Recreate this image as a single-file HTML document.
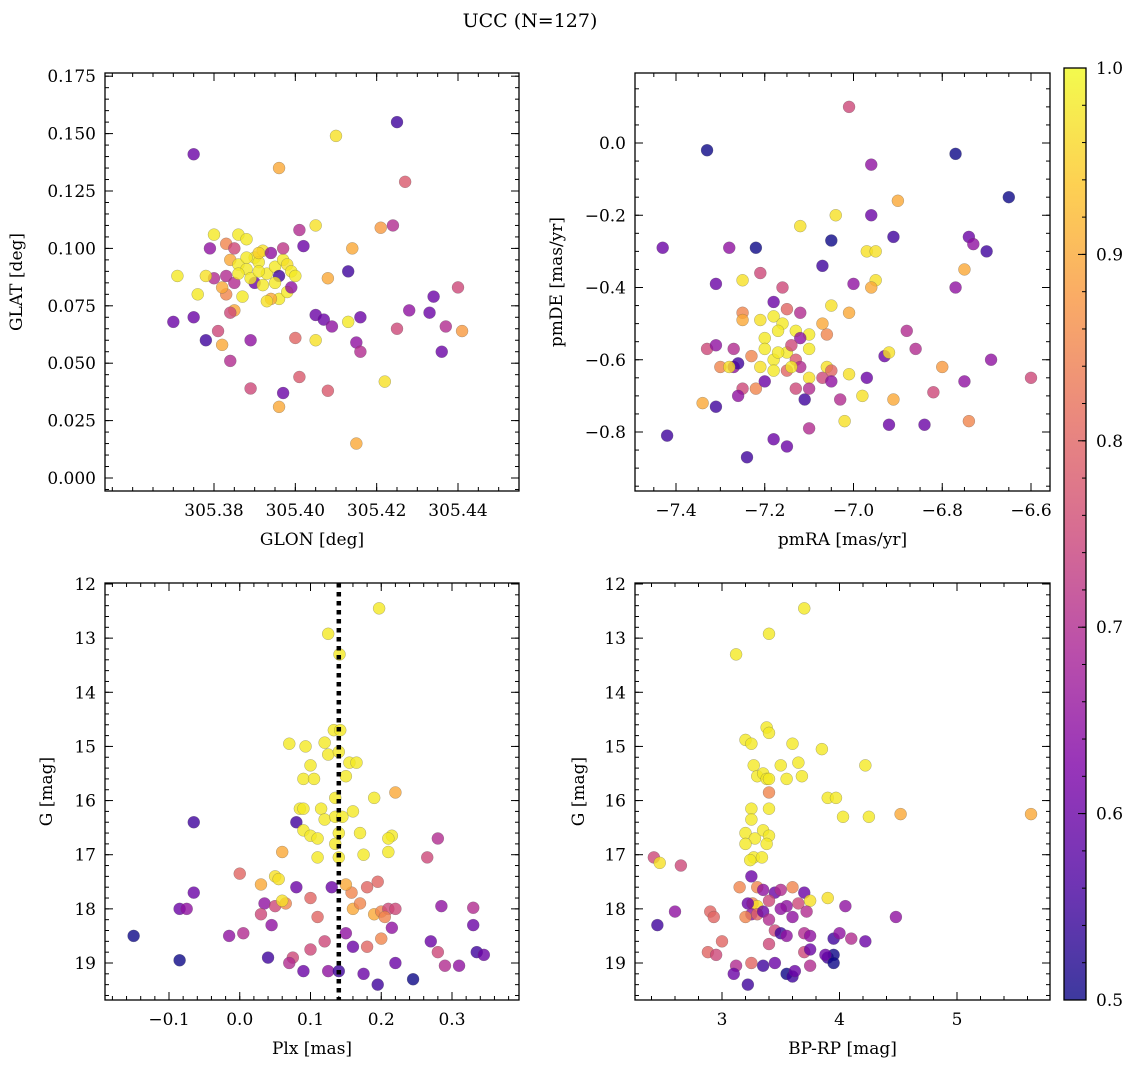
<!DOCTYPE html>
<html><head><meta charset="utf-8"><style>
body{margin:0;background:#fff}
svg{display:block;font-family:"DejaVu Serif","Liberation Serif",serif}
</style></head><body>
<svg id="fig" width="1136" height="1068" viewBox="0 0 1136 1068" xmlns="http://www.w3.org/2000/svg">
<defs><linearGradient id="plasma" x1="0" y1="1" x2="0" y2="0">
<stop offset="0" stop-color="#0d0887"/><stop offset="0.125" stop-color="#4c02a1"/><stop offset="0.25" stop-color="#7e03a8"/><stop offset="0.375" stop-color="#a92395"/><stop offset="0.5" stop-color="#cc4778"/><stop offset="0.625" stop-color="#e56b5d"/><stop offset="0.75" stop-color="#f89540"/><stop offset="0.875" stop-color="#fdc527"/><stop offset="1" stop-color="#f0f921"/>
</linearGradient></defs>
<text x="530" y="27" text-anchor="middle" font-size="19">UCC (N=127)</text>
</svg>
<script>
const p1x=[305.375,305.410,305.425,305.396,305.427,305.371,305.370,305.375,305.376,305.378,305.381,305.382,305.384,305.389,305.389,305.397,305.396,305.401,305.408,305.415,305.422,305.400,305.405,305.405,305.407,305.409,305.413,305.415,305.416,305.416,305.413,305.408,305.405,305.402,305.401,305.414,305.421,305.424,305.425,305.428,305.433,305.434,305.436,305.437,305.440,305.441,
305.380,305.383,305.385,305.386,305.388,305.384,305.386,305.388,305.390,305.392,305.391,305.393,305.394,305.395,305.396,305.397,305.398,305.399,305.400,305.397,305.396,305.394,305.393,305.390,305.387,305.385,305.384,305.383,305.382,305.380,305.378,305.379,305.383,305.385,305.389,305.391,305.392,305.395,305.398,305.399,305.391,305.388,305.386];
const p1y=[0.141,0.149,0.155,0.135,0.129,0.088,0.068,0.070,0.080,0.060,0.064,0.058,0.051,0.039,0.060,0.037,0.031,0.044,0.038,0.015,0.042,0.061,0.060,0.071,0.069,0.066,0.068,0.059,0.055,0.070,0.090,0.087,0.110,0.101,0.108,0.100,0.109,0.110,0.065,0.073,0.072,0.079,0.055,0.066,0.083,0.064,
0.106,0.102,0.100,0.106,0.104,0.095,0.093,0.091,0.096,0.099,0.094,0.089,0.098,0.092,0.088,0.095,0.093,0.090,0.088,0.100,0.078,0.078,0.077,0.085,0.079,0.073,0.072,0.080,0.083,0.087,0.088,0.100,0.088,0.085,0.087,0.090,0.084,0.085,0.081,0.083,0.098,0.096,0.089];
const p1c=[.6,.97,.55,.9,.78,.98,.6,.6,.98,.55,.75,.9,.7,.75,.65,.6,.9,.78,.78,.9,.97,.8,.97,.6,.6,.65,.98,.65,.7,.6,.55,.9,.97,.6,.7,.9,.88,.7,.75,.65,.6,.6,.6,.7,.75,.88,
.98,.85,.75,.98,.98,.9,.98,.98,.98,.97,.98,.98,.65,.98,.55,.98,.97,.98,.98,.72,.98,.9,.97,.6,.98,.9,.75,.85,.9,.7,.97,.65,.7,.7,.98,.98,.98,.98,.98,.65,.95,.98,.98];

const p2x=[-7.33,-6.77,-7.01,-6.65,-6.96,-7.43,-7.28,-7.22,-7.05,-6.96,-6.91,-6.74,-6.73,-6.70,-7.12,-7.04,-6.90,-6.97,-6.95,-6.95,-6.96,-7.00,-7.07,-7.31,-7.21,-7.25,-6.75,-6.77,-7.16,-7.18,-7.15,-7.12,-7.25,-7.25,-7.21,-7.18,-7.16,-7.13,-7.10,-7.06,-7.07,-7.05,-7.01,-7.10,-7.20,-7.17,-7.20,-7.15,-7.18,-7.21,-7.18,-7.15,-7.13,-7.12,-7.10,-7.13,-7.11,-7.10,-7.07,-7.06,-7.05,-7.05,-7.03,-7.01,-6.97,-6.98,-6.93,-6.92,-6.88,-6.86,-6.80,-6.82,-6.75,-6.69,-6.74,-6.60,-6.91,-6.92,-6.84,-7.02,-7.10,-7.18,-7.15,-7.24,-7.42,-7.31,-7.34,-7.33,-7.31,-7.30,-7.27,-7.26,-7.25,-7.26,-7.22,-7.23,-7.28,-7.27,-7.12,-7.14,-7.20,-7.17,-7.14];
const p2y=[-0.02,-0.03,0.10,-0.15,-0.06,-0.29,-0.29,-0.29,-0.27,-0.20,-0.26,-0.26,-0.28,-0.30,-0.23,-0.20,-0.16,-0.30,-0.30,-0.38,-0.40,-0.39,-0.34,-0.39,-0.36,-0.38,-0.35,-0.40,-0.40,-0.44,-0.46,-0.47,-0.47,-0.49,-0.49,-0.48,-0.50,-0.52,-0.53,-0.53,-0.50,-0.45,-0.47,-0.57,-0.54,-0.52,-0.57,-0.58,-0.60,-0.62,-0.63,-0.63,-0.60,-0.62,-0.65,-0.68,-0.71,-0.68,-0.65,-0.62,-0.63,-0.66,-0.71,-0.64,-0.65,-0.70,-0.59,-0.58,-0.52,-0.57,-0.62,-0.69,-0.66,-0.60,-0.77,-0.65,-0.71,-0.78,-0.78,-0.77,-0.79,-0.82,-0.84,-0.87,-0.81,-0.73,-0.72,-0.57,-0.56,-0.62,-0.62,-0.61,-0.68,-0.70,-0.68,-0.59,-0.62,-0.57,-0.54,-0.56,-0.66,-0.58,-0.62];
const p2c=[.5,.5,.75,.5,.65,.6,.65,.5,.5,.6,.55,.6,.65,.55,.97,.97,.9,.97,.97,.97,.9,.65,.55,.6,.75,.97,.9,.65,.75,.6,.8,.7,.85,.9,.97,.98,.98,.98,.98,.85,.9,.97,.9,.98,.98,.98,.98,.98,.98,.97,.98,.8,.78,.7,.97,.75,.55,.7,.75,.97,.8,.65,.7,.97,.6,.97,.6,.97,.7,.7,.88,.75,.65,.65,.85,.75,.9,.6,.6,.97,.7,.6,.6,.55,.55,.55,.9,.75,.65,.85,.65,.55,.75,.65,.85,.85,.97,.7,.65,.75,.6,.98,.98];

const p3x=[0.197,0.125,0.141,0.133,0.142,0.07,0.093,0.12,0.125,0.14,0.155,0.165,0.1,0.09,0.105,0.15,0.22,0.19,0.135,0.085,0.09,0.115,0.12,0.135,0.145,0.16,0.08,-0.065,0.09,0.1,0.11,0.14,0.17,0.215,0.21,0.135,0.14,0.11,0.06,0.175,0.21,0.28,0.265,0.0,0.05,0.055,0.03,0.08,0.1,0.13,0.158,0.18,0.15,0.195,-0.065,-0.085,-0.075,0.035,0.05,0.065,0.06,0.03,0.045,0.11,0.16,0.17,0.19,0.2,0.21,0.22,0.205,0.215,0.285,0.33,0.33,-0.15,-0.015,0.005,0.04,0.075,0.07,0.1,0.12,0.15,0.16,0.18,0.2,0.22,0.125,0.14,0.175,0.09,0.195,0.245,0.27,0.28,0.29,0.31,0.335,0.345,-0.085];
const p3y=[12.45,12.92,13.3,14.7,14.7,14.95,15.0,14.93,15.15,15.1,15.3,15.3,15.35,15.6,15.6,15.55,15.85,15.95,15.95,16.15,16.15,16.15,16.35,16.3,16.3,16.2,16.4,16.4,16.55,16.65,16.7,16.6,16.6,16.65,16.7,16.8,17.05,17.05,16.95,17.0,16.95,16.7,17.05,17.35,17.4,17.45,17.55,17.6,17.8,17.6,17.7,17.6,17.55,17.5,17.7,18.0,18.0,17.9,17.95,17.9,17.85,18.1,18.3,18.15,18.0,17.9,18.1,18.05,18.0,18.0,18.15,18.35,17.95,17.98,18.3,18.5,18.5,18.45,18.9,18.9,19.0,18.75,18.6,18.45,18.7,18.7,18.55,19.0,19.15,19.15,19.2,19.15,19.4,19.3,18.6,18.8,19.05,19.05,18.8,18.85,18.95];
const p3c=[.98,.98,.98,.98,.98,.98,.98,.98,.98,.98,.98,.98,.98,.98,.98,.98,.9,.98,.98,.98,.98,.98,.98,.98,.98,.98,.55,.55,.98,.98,.98,.98,.98,.98,.98,.98,.98,.98,.9,.98,.98,.7,.75,.8,.97,.97,.9,.6,.8,.6,.85,.8,.9,.8,.6,.6,.65,.65,.75,.85,.97,.75,.65,.8,.9,.85,.9,.85,.75,.75,.85,.65,.65,.7,.6,.5,.65,.7,.55,.75,.7,.75,.75,.65,.6,.8,.85,.6,.65,.55,.6,.6,.55,.5,.6,.75,.7,.65,.55,.6,.5];

const p4x=[3.7,3.4,3.12,3.38,3.4,3.2,3.25,3.6,3.85,3.27,3.5,3.65,4.22,3.3,3.35,3.38,3.4,3.55,3.68,3.4,3.9,3.97,4.03,4.25,4.52,5.63,3.25,3.4,3.2,3.28,3.35,3.4,3.25,3.38,3.2,3.27,3.24,3.34,2.42,2.47,2.65,3.15,3.25,3.3,3.35,3.45,3.5,3.6,3.7,3.26,3.3,3.4,3.55,3.65,3.75,3.9,4.05,3.22,3.25,3.3,3.35,3.5,3.6,3.72,3.2,2.6,2.9,2.93,3.0,3.4,3.45,3.5,3.55,3.7,3.75,3.95,4.0,4.1,4.22,4.48,3.4,3.7,3.75,3.9,3.95,2.88,2.95,3.12,3.25,3.35,3.45,3.55,3.6,3.62,3.75,3.88,3.1,3.22,3.95,2.45];
const p4y=[12.45,12.92,13.3,14.65,14.75,14.88,14.95,14.95,15.05,15.35,15.35,15.3,15.35,15.55,15.5,15.6,15.6,15.6,15.55,15.85,15.95,15.95,16.3,16.3,16.25,16.25,16.15,16.15,16.6,16.7,16.55,16.65,16.35,16.8,16.8,17.05,17.1,17.05,17.05,17.15,17.2,17.6,17.4,17.6,17.65,17.7,17.65,17.6,17.7,17.9,17.95,17.85,17.95,17.9,17.85,17.8,17.95,17.9,18.1,18.1,18.05,18.0,18.15,18.05,18.15,18.05,18.05,18.15,18.6,18.2,18.4,18.45,18.5,18.45,18.5,18.55,18.45,18.55,18.6,18.15,18.65,18.8,18.75,18.9,18.85,18.8,18.85,19.05,19.0,19.05,19.0,19.2,19.25,19.15,19.05,18.85,19.2,19.4,19.0,18.3];
const p4c=[.98,.98,.98,.98,.98,.98,.98,.98,.98,.98,.98,.98,.98,.98,.98,.98,.98,.98,.98,.85,.98,.98,.98,.98,.9,.9,.98,.98,.98,.98,.98,.98,.98,.98,.98,.98,.98,.98,.75,.97,.75,.85,.6,.85,.65,.6,.7,.85,.6,.85,.97,.75,.65,.75,.97,.97,.65,.6,.65,.8,.6,.65,.65,.7,.85,.65,.8,.8,.8,.7,.75,.55,.65,.7,.65,.55,.65,.7,.6,.65,.75,.75,.6,.55,.5,.8,.75,.7,.8,.55,.6,.5,.55,.6,.7,.6,.6,.55,.5,.55];

const cbTicks=[0.5,0.6,0.7,0.8,0.9,1.0];
const NS="http://www.w3.org/2000/svg";
const svg=document.getElementById('fig');
const stops=[[13,8,135],[76,2,161],[126,3,168],[169,35,149],[204,71,120],[229,107,93],[248,149,64],[253,197,39],[240,249,33]];
function plasma(v){let t=Math.max(0,Math.min(1,(v-0.5)/0.5))*8;let i=Math.min(7,Math.floor(t)),f=t-i;const a=stops[i],b=stops[i+1];return 'rgb('+a.map((x,k)=>Math.round(x+(b[k]-x)*f)).join(',')+')';}
function mk(tag,attrs,parent){const e=document.createElementNS(NS,tag);for(const k in attrs)e.setAttribute(k,attrs[k]);(parent||svg).appendChild(e);return e;}
function fmt(v,d){return (v<0?'\u2212':'')+Math.abs(v).toFixed(d);}
const FS=17;

function panel(c){
  const g=mk('g',{});
  
  
  const X=v=>c.L+(v-c.x0)/(c.x1-c.x0)*(c.R-c.L);
  const Y=c.inv?(v=>c.T+(v-c.y0)/(c.y1-c.y0)*(c.B-c.T)):(v=>c.B-(v-c.y0)/(c.y1-c.y0)*(c.B-c.T));
  for(let i=0;i<c.xs.length;i++){
    const pt=mk('circle',{cx:X(c.xs[i]),cy:Y(c.ys[i]),r:6,fill:plasma(c.cs[i]),'fill-opacity':0.8,stroke:'#555','stroke-width':0.4,'stroke-opacity':0.6},g);
    
    
  }
  if(c.vline!==undefined){const l=mk('line',{x1:X(c.vline),x2:X(c.vline),y1:c.T,y2:c.B,stroke:'#000','stroke-width':4.5,'stroke-dasharray':'4.5,4.5'},g);
    
    }
  const fr=mk('rect',{x:c.L,y:c.T,width:c.R-c.L,height:c.B-c.T,fill:'none',stroke:'#000','stroke-width':1.3},g);
  
  
  const xs0=Math.ceil((Math.min(c.x0,c.x1))/c.xm-1e-6);
  for(let k=xs0;k*c.xm<=Math.max(c.x0,c.x1)+1e-9;k++){const px=X(k*c.xm);mk('line',{x1:px,x2:px,y1:c.B,y2:c.B-4,stroke:'#000'},g);mk('line',{x1:px,x2:px,y1:c.T,y2:c.T+4,stroke:'#000'},g);}
  const ylo=Math.min(c.y0,c.y1),yhi=Math.max(c.y0,c.y1);
  for(let k=Math.ceil(ylo/c.ym-1e-6);k*c.ym<=yhi+1e-9;k++){const py=Y(k*c.ym);mk('line',{x1:c.L,x2:c.L+4,y1:py,y2:py,stroke:'#000'},g);mk('line',{x1:c.R,x2:c.R-4,y1:py,y2:py,stroke:'#000'},g);}
  c.xt.forEach(v=>{const px=X(v);mk('line',{x1:px,x2:px,y1:c.B,y2:c.B-8,stroke:'#000'},g);mk('line',{x1:px,x2:px,y1:c.T,y2:c.T+8,stroke:'#000'},g);
    const t=mk('text',{x:px,y:c.B+25,'text-anchor':'middle','font-size':FS},g);t.textContent=fmt(v,c.xd);
    });
  c.yt.forEach(v=>{const py=Y(v);mk('line',{x1:c.L,x2:c.L+8,y1:py,y2:py,stroke:'#000'},g);mk('line',{x1:c.R,x2:c.R-8,y1:py,y2:py,stroke:'#000'},g);
    const t=mk('text',{x:c.L-9,y:py+6,'text-anchor':'end','font-size':FS},g);t.textContent=fmt(v,c.yd);
    });
  const xl=mk('text',{x:(c.L+c.R)/2,y:c.B+54,'text-anchor':'middle','font-size':FS},g);xl.textContent=c.xl;
  
  const yl=mk('text',{x:c.ylx,y:(c.T+c.B)/2,'text-anchor':'middle','font-size':FS,transform:'rotate(-90 '+c.ylx+' '+(c.T+c.B)/2+')'},g);yl.textContent=c.yl;
  
}
const rng=(a,b,s)=>{const r=[];for(let v=a;v<=b+1e-9;v+=s)r.push(+v.toFixed(6));return r;};
panel({name:'glon-glat-panel',L:105,R:519,T:73,B:491,x0:305.38-109/4067,x1:305.44+61/4067,y0:-(491-478)*0.025/57.4,y1:(478-73)*0.025/57.4,xs:p1x,ys:p1y,cs:p1c,xt:[305.38,305.40,305.42,305.44],xd:2,xm:0.005,yt:rng(0,0.175,0.025),yd:3,ym:0.005,xl:'GLON [deg]',yl:'GLAT [deg]',ylx:22});
panel({name:'proper-motion-panel',L:635,R:1050,T:73,B:491,x0:-7.4-(676-635)/443.75,x1:-6.6+(1050-1031)/443.75,y0:-(491-143)/361.25,y1:(143-73)/361.25,xs:p2x,ys:p2y,cs:p2c,xt:rng(-7.4,-6.6,0.2),xd:1,xm:0.05,yt:rng(-0.8,0,0.2),yd:1,ym:0.05,xl:'pmRA [mas/yr]',yl:'pmDE [mas/yr]',ylx:562});
panel({name:'parallax-magnitude-panel',L:105,R:519,T:583,B:1000,x0:-0.1-(169-105)/707.5,x1:0.3+(519-452)/707.5,y0:12-(584-583)/54.14,y1:19+(1000-963)/54.14,inv:true,xs:p3x,ys:p3y,cs:p3c,xt:rng(-0.1,0.3,0.1),xd:1,xm:0.02,yt:rng(12,19,1),yd:0,ym:0.2,xl:'Plx [mas]',yl:'G [mag]',ylx:52,vline:0.14});
panel({name:'color-magnitude-panel',L:635,R:1050,T:583,B:1000,x0:3-(722-635)/117.5,x1:5+(1050-957)/117.5,y0:12-(584-583)/54.14,y1:19+(1000-963)/54.14,inv:true,xs:p4x,ys:p4y,cs:p4c,xt:[3,4,5],xd:0,xm:0.2,yt:rng(12,19,1),yd:0,ym:0.2,xl:'BP-RP [mag]',yl:'G [mag]',ylx:584});
const cb=mk('g',{});


mk('rect',{x:1064,y:68,width:22,height:932,fill:'url(#plasma)','fill-opacity':0.8},cb);
mk('rect',{x:1064,y:68,width:22,height:932,fill:'none',stroke:'#000','stroke-width':1.3},cb);
const CY=v=>1000-(v-0.5)/0.5*932;
for(let v=0.5;v<=1.0001;v+=0.02){mk('line',{x1:1086,x2:1082,y1:CY(v),y2:CY(v),stroke:'#000'},cb);}
cbTicks.forEach(v=>{mk('line',{x1:1086,x2:1078,y1:CY(v),y2:CY(v),stroke:'#000'},cb);
  const t=mk('text',{x:1096,y:CY(v)+6,'font-size':FS},cb);t.textContent=v.toFixed(1);
  });
</script>
</body></html>
